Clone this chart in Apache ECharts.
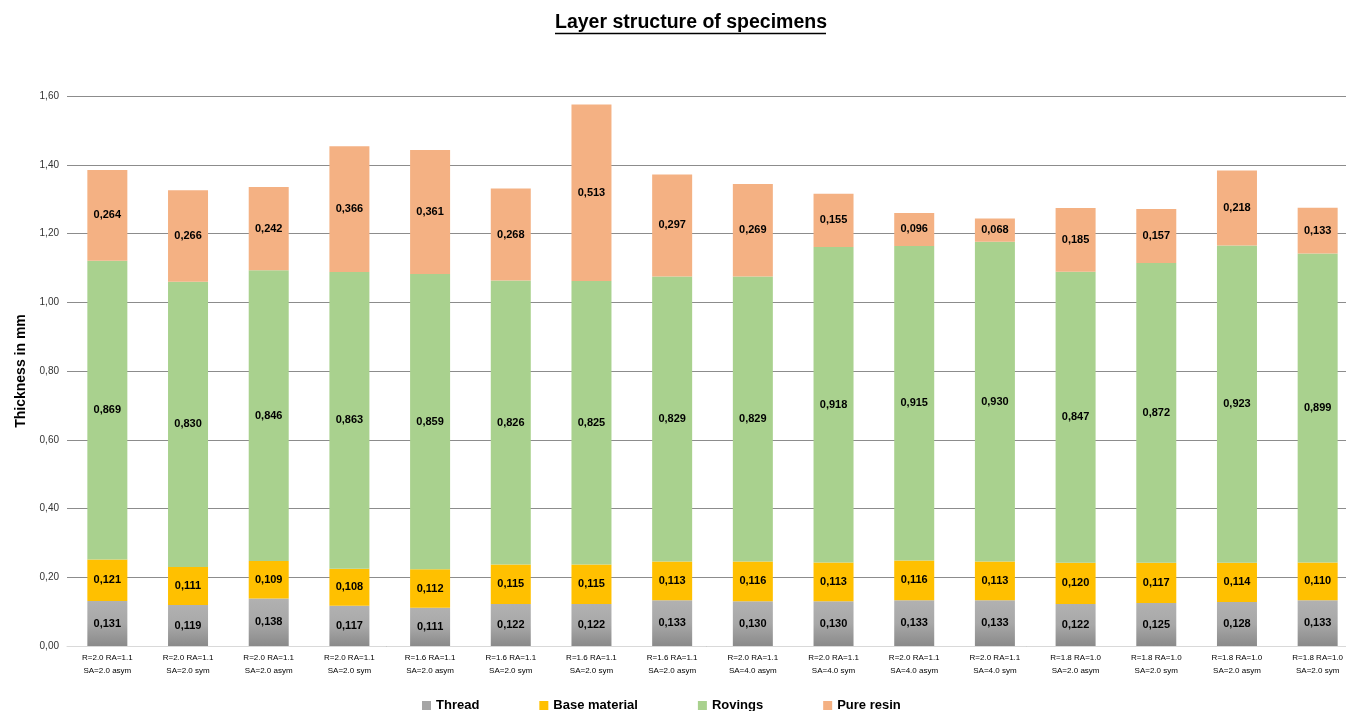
<!DOCTYPE html>
<html>
<head>
<meta charset="utf-8">
<script src="https://cdn.jsdelivr.net/npm/echarts@6/dist/echarts.min.js"></script>
<style>
  html, body { margin: 0; padding: 0; background: #fff; }
  #chart { width: 1346px; height: 711px; }
</style>
</head>
<body>
<div id="chart"></div>
<script>
const categories = [
  'R=2.0 RA=1.1\nSA=2.0 asym', 'R=2.0 RA=1.1\nSA=2.0 sym', 'R=2.0 RA=1.1\nSA=2.0 asym', 'R=2.0 RA=1.1\nSA=2.0 sym',
  'R=1.6 RA=1.1\nSA=2.0 asym', 'R=1.6 RA=1.1\nSA=2.0 sym', 'R=1.6 RA=1.1\nSA=2.0 sym', 'R=1.6 RA=1.1\nSA=2.0 asym',
  'R=2.0 RA=1.1\nSA=4.0 asym', 'R=2.0 RA=1.1\nSA=4.0 sym', 'R=2.0 RA=1.1\nSA=4.0 asym', 'R=2.0 RA=1.1\nSA=4.0 sym',
  'R=1.8 RA=1.0\nSA=2.0 asym', 'R=1.8 RA=1.0\nSA=2.0 sym', 'R=1.8 RA=1.0\nSA=2.0 asym', 'R=1.8 RA=1.0\nSA=2.0 sym',
];
const thread = [0.131, 0.119, 0.138, 0.117, 0.111, 0.122, 0.122, 0.133, 0.130, 0.130, 0.133, 0.133, 0.122, 0.125, 0.128, 0.133];
const baseMaterial = [0.121, 0.111, 0.109, 0.108, 0.112, 0.115, 0.115, 0.113, 0.116, 0.113, 0.116, 0.113, 0.120, 0.117, 0.114, 0.110];
const rovings = [0.869, 0.830, 0.846, 0.863, 0.859, 0.826, 0.825, 0.829, 0.829, 0.918, 0.915, 0.930, 0.847, 0.872, 0.923, 0.899];
const pureResin = [0.264, 0.266, 0.242, 0.366, 0.361, 0.268, 0.513, 0.297, 0.269, 0.155, 0.096, 0.068, 0.185, 0.157, 0.218, 0.133];

const FONT = "'Liberation Sans', Arial, sans-serif";

const comma = (v, d) => v.toFixed(d).replace('.', ',');

function makeSeries(name, data, color) {
  return {
    name,
    type: 'bar',
    stack: 'layers',
    barWidth: 40,
    data,
    itemStyle: { color },
    label: {
      show: true,
      position: 'inside',
      color: '#000',
      fontFamily: FONT,
      fontWeight: 'bold',
      fontSize: 11,
      formatter: (p) => comma(p.value, 3),
    },
    emphasis: { disabled: true },
  };
}

const chart = echarts.init(document.getElementById('chart'));
chart.setOption({
  animation: false,
  graphic: [
    {
      type: 'text',
      left: 555,
      top: 13,
      style: {
        text: 'Layer structure of specimens',
        fontFamily: FONT,
        fontWeight: 'bold',
        fontSize: 19.5,
        fill: '#000',
      },
    },
    {
      type: 'line',
      shape: { x1: 555, y1: 33.5, x2: 826, y2: 33.5 },
      style: { stroke: '#000', lineWidth: 1.5 },
    },
  ],
  legend: {
    left: 417,
    top: 694,
    itemWidth: 9,
    itemHeight: 9,
    itemGap: 60,
    icon: 'rect',
    textStyle: {
      fontFamily: FONT,
      fontWeight: 'bold',
      fontSize: 13,
      color: '#000',
    },
    data: [
      { name: 'Thread', itemStyle: { color: '#a5a5a5' } },
      'Base material',
      'Rovings',
      'Pure resin',
    ],
  },
  grid: {
    left: 67,
    width: 1291,
    top: 96,
    bottom: 65,
    outerBoundsMode: 'none',
  },
  xAxis: {
    type: 'category',
    data: categories,
    axisLine: { show: true, lineStyle: { color: '#d9d9d9', width: 1 } },
    axisTick: { show: false },
    axisLabel: {
      interval: 0,
      margin: 5,
      fontFamily: FONT,
      fontSize: 8,
      lineHeight: 13,
      color: '#000',
    },
  },
  yAxis: {
    type: 'value',
    min: 0,
    max: 1.6,
    interval: 0.2,
    name: 'Thickness in mm',
    nameLocation: 'middle',
    nameGap: 38,
    nameTextStyle: {
      fontFamily: FONT,
      fontWeight: 'bold',
      fontSize: 14,
      color: '#000',
    },
    axisLine: { show: false },
    axisTick: { show: false },
    axisLabel: {
      margin: 8,
      fontFamily: FONT,
      fontSize: 10,
      color: '#333',
      formatter: (v) => comma(v, 2),
    },
    splitLine: {
      show: true,
      lineStyle: { color: '#8c8c8c', width: 1 },
    },
  },
  series: [
    makeSeries('Thread', thread, new echarts.graphic.LinearGradient(0, 0, 0, 1, [
      { offset: 0, color: '#b1b1b1' },
      { offset: 0.5, color: '#a8a8a8' },
      { offset: 1, color: '#8a8a8a' },
    ])),
    makeSeries('Base material', baseMaterial, '#ffc000'),
    makeSeries('Rovings', rovings, '#a9d18e'),
    makeSeries('Pure resin', pureResin, '#f4b183'),
  ],
});
</script>
</body>
</html>
